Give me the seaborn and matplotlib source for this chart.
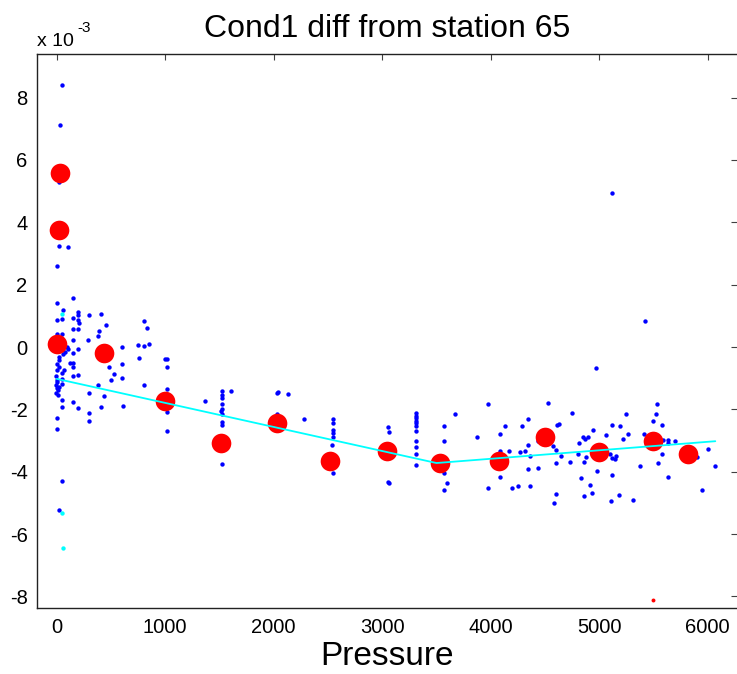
import matplotlib
matplotlib.use("Agg")
import matplotlib.pyplot as plt
import seaborn as sns
import pandas as pd

# ---- data (y in units of 1e-3) ----
blue_p = [49, 33, 24, 24, 104, 3, 5, 147, 55, 0, 46, 147, 199, 199, 199, 301, 405, 199, 147, 46, 0,
          390, 378, 451, 288, 147, 92, 108, 199, 76, 61, 147, 24, 24, 123, 153, 147, 0, 24, 67, 46,
          0, -6, 46, 147, 199, 0, -6, 24, 15, -6, 15, 49, 46, 147, 199, 301, 301, 301, 384, 436, 405,
          485, 531, 500, 605, 605, 608, 599, 752, 805, 853, 761, 805, 829, 807, 998, 1020, 1020, 1014,
          1014, 1014, 1367, 1521, 1604, 1521, 1521, 1521, 1521, 1514, 1521, 1521, 1521, 1521, 46, 21,
          6, 6, 0, 5, 206, 52,
          2031, 2040, 2135, 2033, 2279,
          2544, 2544, 2544, 2544, 2544, 2540, 2544,
          3056, 3060, 3056, 3058,
          3309, 3309, 3309, 3309, 3309, 3309, 3309, 3309, 3309, 3309, 3309,
          3570, 3570, 3570, 3594, 3570, 3671, 3871, 3978, 3972,
          5422, 4971, 4528, 5530, 5521, 4746, 5244, 4341, 5496, 4129, 4291, 4608, 4630, 5115, 5192,
          5581, 4943, 4086, 5060, 4853, 4872, 4900, 5263, 5222, 5413, 5585, 5634, 5701, 5634, 4439,
          4577, 4341, 4602, 4811, 4086, 4166, 4267, 4316, 4362, 4648, 4802, 4878, 5100, 5121, 5146,
          5155, 5581, 6000, 5899, 6067, 4734, 4602, 4857, 5379, 5539, 4341, 4439, 4980, 5115, 5634,
          4086, 4199, 4249, 4362, 4829, 4915, 4934, 4863, 4602, 4583, 5109, 5185, 5314, 5947, 5121]
blue_v = [8.41, 7.11, 5.29, 3.25, 3.22, 2.60, 1.40, 1.56, 1.18, 0.86, 0.91, 0.94, 1.13, 1.02, 0.86, 1.02,
          1.05, 0.59, 0.57, 0.43, 0.43, 0.50, 0.35, 0.71, 0.24, 0.24, 0.00, -0.05, -0.07, -0.16, -0.23,
          -0.19, -0.32, -0.43, -0.51, -0.51, -0.64, -0.54, -0.64, -0.73, -0.84, -0.75, -0.94, -1.02,
          -0.93, -0.91, -1.07, -1.23, -1.29, -1.39, -1.48, -1.55, -1.71, -1.93, -1.77, -1.96, -1.48,
          -2.12, -2.36, -1.23, -1.58, -1.93, -0.64, -0.88, -1.05, -0.54, -1.00, -1.90, 0.00, 0.05, 0.02,
          0.09, -0.34, 0.84, 0.61, -1.21, -0.37, -0.37, -0.64, -1.34, -2.09, -2.70, -1.74, -1.42, -1.42,
          -1.55, -1.63, -1.84, -1.98, -2.04, -2.16, -2.41, -2.49, -3.75, -4.31, -5.23,
          -2.27, -2.62, -1.12, -1.30, 0.78, -1.20,
          -1.48, -1.45, -1.50, -2.14, -2.32,
          -2.30, -2.44, -2.65, -2.76, -2.89, -3.14, -4.04,
          -2.57, -2.73, -4.32, -4.37,
          -2.11, -2.20, -2.27, -2.36, -2.44, -2.54, -2.68, -3.00, -3.19, -3.43, -3.77,
          -2.52, -3.02, -4.04, -4.37, -4.57, -2.14, -2.89, -1.82, -4.52,
          0.84, -0.68, -1.79, -1.84, -2.14, -2.11, -2.14, -2.30, -2.38, -2.52, -2.52, -2.49, -2.46,
          -2.50, -2.53, -2.50, -2.66, -2.80, -2.83, -2.87, -2.94, -2.89, -2.79, -2.95, -2.79, -2.98,
          -2.98, -3.02, -3.09, -3.02, -3.16, -3.14, -3.30, -3.09, -3.32, -3.35, -3.38, -3.34, -3.50,
          -3.51, -3.43, -3.54, -3.43, -3.56, -3.59, -3.49, -3.44, -3.27, -3.54, -3.80, -3.69, -3.73,
          -3.69, -3.83, -3.72, -3.91, -3.88, -3.99, -4.09, -4.16, -4.16, -4.51, -4.45, -4.46, -4.20,
          -4.42, -4.68, -4.78, -4.71, -4.99, -4.94, -4.75, -4.91, -4.58, 4.95]

cyan_p = [46, 52, 55]
cyan_v = [1.07, -5.33, -6.45]

small_red_p = [5496]
small_red_v = [-8.11]

mean_p = [5, 21, 33, 436, 995, 1514, 2031, 2523, 3041, 3533, 4079, 4503, 4995, 5493, 5821]
mean_v = [0.09, 3.75, 5.57, -0.19, -1.74, -3.07, -2.44, -3.67, -3.34, -3.73, -3.64, -2.89, -3.37, -3.00, -3.43]

fit_p = [0, 3500, 6070]
fit_v = [-1.02, -3.72, -3.02]

x_ticks = [0, 1000, 2000, 3000, 4000, 5000, 6000]
y_ticks = [-8, -6, -4, -2, 0, 2, 4, 6, 8]

title = "Cond1 diff from station 65"
xlabel = "Pressure"

# ---- style ----
sns.set_style("white")
plt.rcParams['font.family'] = ['Liberation Sans', 'DejaVu Sans']
plt.rcParams['axes.unicode_minus'] = False
plt.rcParams['text.color'] = 'black'
plt.rcParams['axes.labelcolor'] = 'black'

fig = plt.figure(figsize=(7.37, 6.74), dpi=100)
ax = fig.add_axes([37.3 / 737, 66 / 674, (737 - 37.3) / 737, (608 - 54) / 674])

blue_df = pd.DataFrame({"p": blue_p, "v": blue_v})
sns.scatterplot(data=blue_df, x="p", y="v", color=(0, 0, 1), s=10, linewidth=0, ax=ax, zorder=2)
sns.scatterplot(x=cyan_p, y=cyan_v, color=(0, 1, 1), s=10, linewidth=0, ax=ax, zorder=2)
sns.scatterplot(x=small_red_p, y=small_red_v, color=(1, 0, 0), s=8, linewidth=0, ax=ax, zorder=2)
sns.scatterplot(x=mean_p, y=mean_v, color=(1, 0, 0), s=200, linewidth=0, ax=ax, zorder=3)
sns.lineplot(x=fit_p, y=fit_v, color=(0, 1, 1), linewidth=1.3, sort=False, ax=ax, zorder=4)

ax.set_xlim(-179, 6270)
ax.set_ylim(-8.37, 9.40)
ax.set_xticks(x_ticks)
ax.set_yticks(y_ticks)
ax.tick_params(direction='in', length=4, width=0.8, colors='#404040', labelcolor='black',
               labelsize=14.5, top=True, right=True, pad=7)
for side in ['left', 'bottom', 'top']:
    ax.spines[side].set_color('#222222')
    ax.spines[side].set_linewidth(1.0)
ax.spines['right'].set_visible(False)

ax.set_xlabel(xlabel, fontsize=24, labelpad=3, color='black')
ax.set_ylabel("")
ax.set_title(title, fontsize=23, pad=12, color='black')

fig.text(37 / 737, 1 - 46 / 674, "x 10", fontsize=14, ha='left', va='baseline', color='black')
fig.text(77 / 737, 1 - 32 / 674, "-3", fontsize=11, ha='left', va='baseline', color='black')

fig.savefig("out.png", dpi=100)
